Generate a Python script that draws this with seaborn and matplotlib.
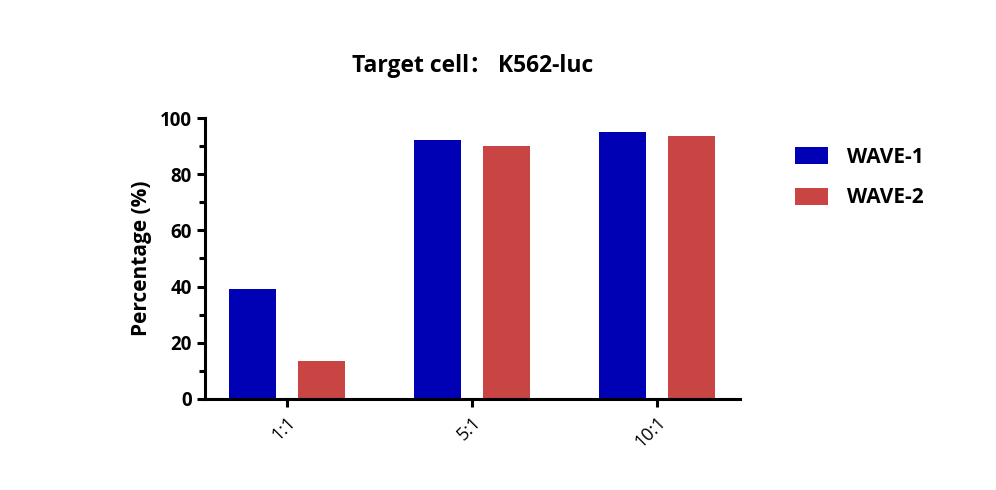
import pandas as pd
import seaborn as sns
import matplotlib.pyplot as plt
from matplotlib.ticker import MultipleLocator

ratios = ['1:1', '5:1', '10:1']
wave1 = [39.3, 92.2, 95.0]
wave2 = [13.6, 90.0, 93.6]
groups = ['WAVE-1', 'WAVE-2']
colors = ['#0000B4', '#C94543']

df = pd.DataFrame({
    'ratio': ratios * 2,
    'value': wave1 + wave2,
    'group': [groups[0]] * 3 + [groups[1]] * 3,
})

sns.set_style('ticks')
plt.rcParams['font.family'] = ['Open Sans', 'Noto Sans CJK SC', 'DejaVu Sans']
plt.rcParams['text.color'] = 'black'
plt.rcParams['axes.labelcolor'] = 'black'
plt.rcParams['xtick.color'] = 'black'
plt.rcParams['ytick.color'] = 'black'
plt.rcParams['axes.edgecolor'] = 'black'

fig = plt.figure(figsize=(9.96, 4.9), dpi=100)
ax = fig.add_axes([0.206, 0.186, 0.537, 0.573])

sns.barplot(data=df, x='ratio', y='value', hue='group', palette=colors,
            width=0.745, gap=0.32, ax=ax, saturation=1, edgecolor='none')

ax.set_xlim(-0.44, 2.45)
ax.set_ylim(0, 100)
ax.yaxis.set_major_locator(MultipleLocator(20))
ax.yaxis.set_minor_locator(MultipleLocator(10))
sns.despine(ax=ax, top=True, right=True)
for s in ['left', 'bottom']:
    ax.spines[s].set_linewidth(2.2)
ax.tick_params(axis='both', which='major', width=2.2, length=6)
ax.tick_params(axis='y', which='minor', width=2.2, length=4)
ax.tick_params(axis='y', labelsize=13.5)
ax.tick_params(axis='x', labelsize=13, pad=4)
for lab in ax.get_yticklabels():
    lab.set_fontweight('bold')
plt.setp(ax.get_xticklabels(), rotation=45, ha='right', rotation_mode='anchor')

ax.set_xlabel('')
ax.set_ylabel('Percentage (%)', fontsize=15, fontweight='bold', labelpad=6)
fig.suptitle('Target cell： K562-luc', x=0.475, y=0.89, fontsize=16.5, fontweight='bold')

ax.legend(title=None, frameon=False, loc='upper left', bbox_to_anchor=(1.067, 0.965),
          prop={'size': 15, 'weight': 'bold'}, handlelength=1.6, handleheight=0.9,
          labelspacing=0.95, handletextpad=0.9)

fig.savefig('out.png', dpi=100)
